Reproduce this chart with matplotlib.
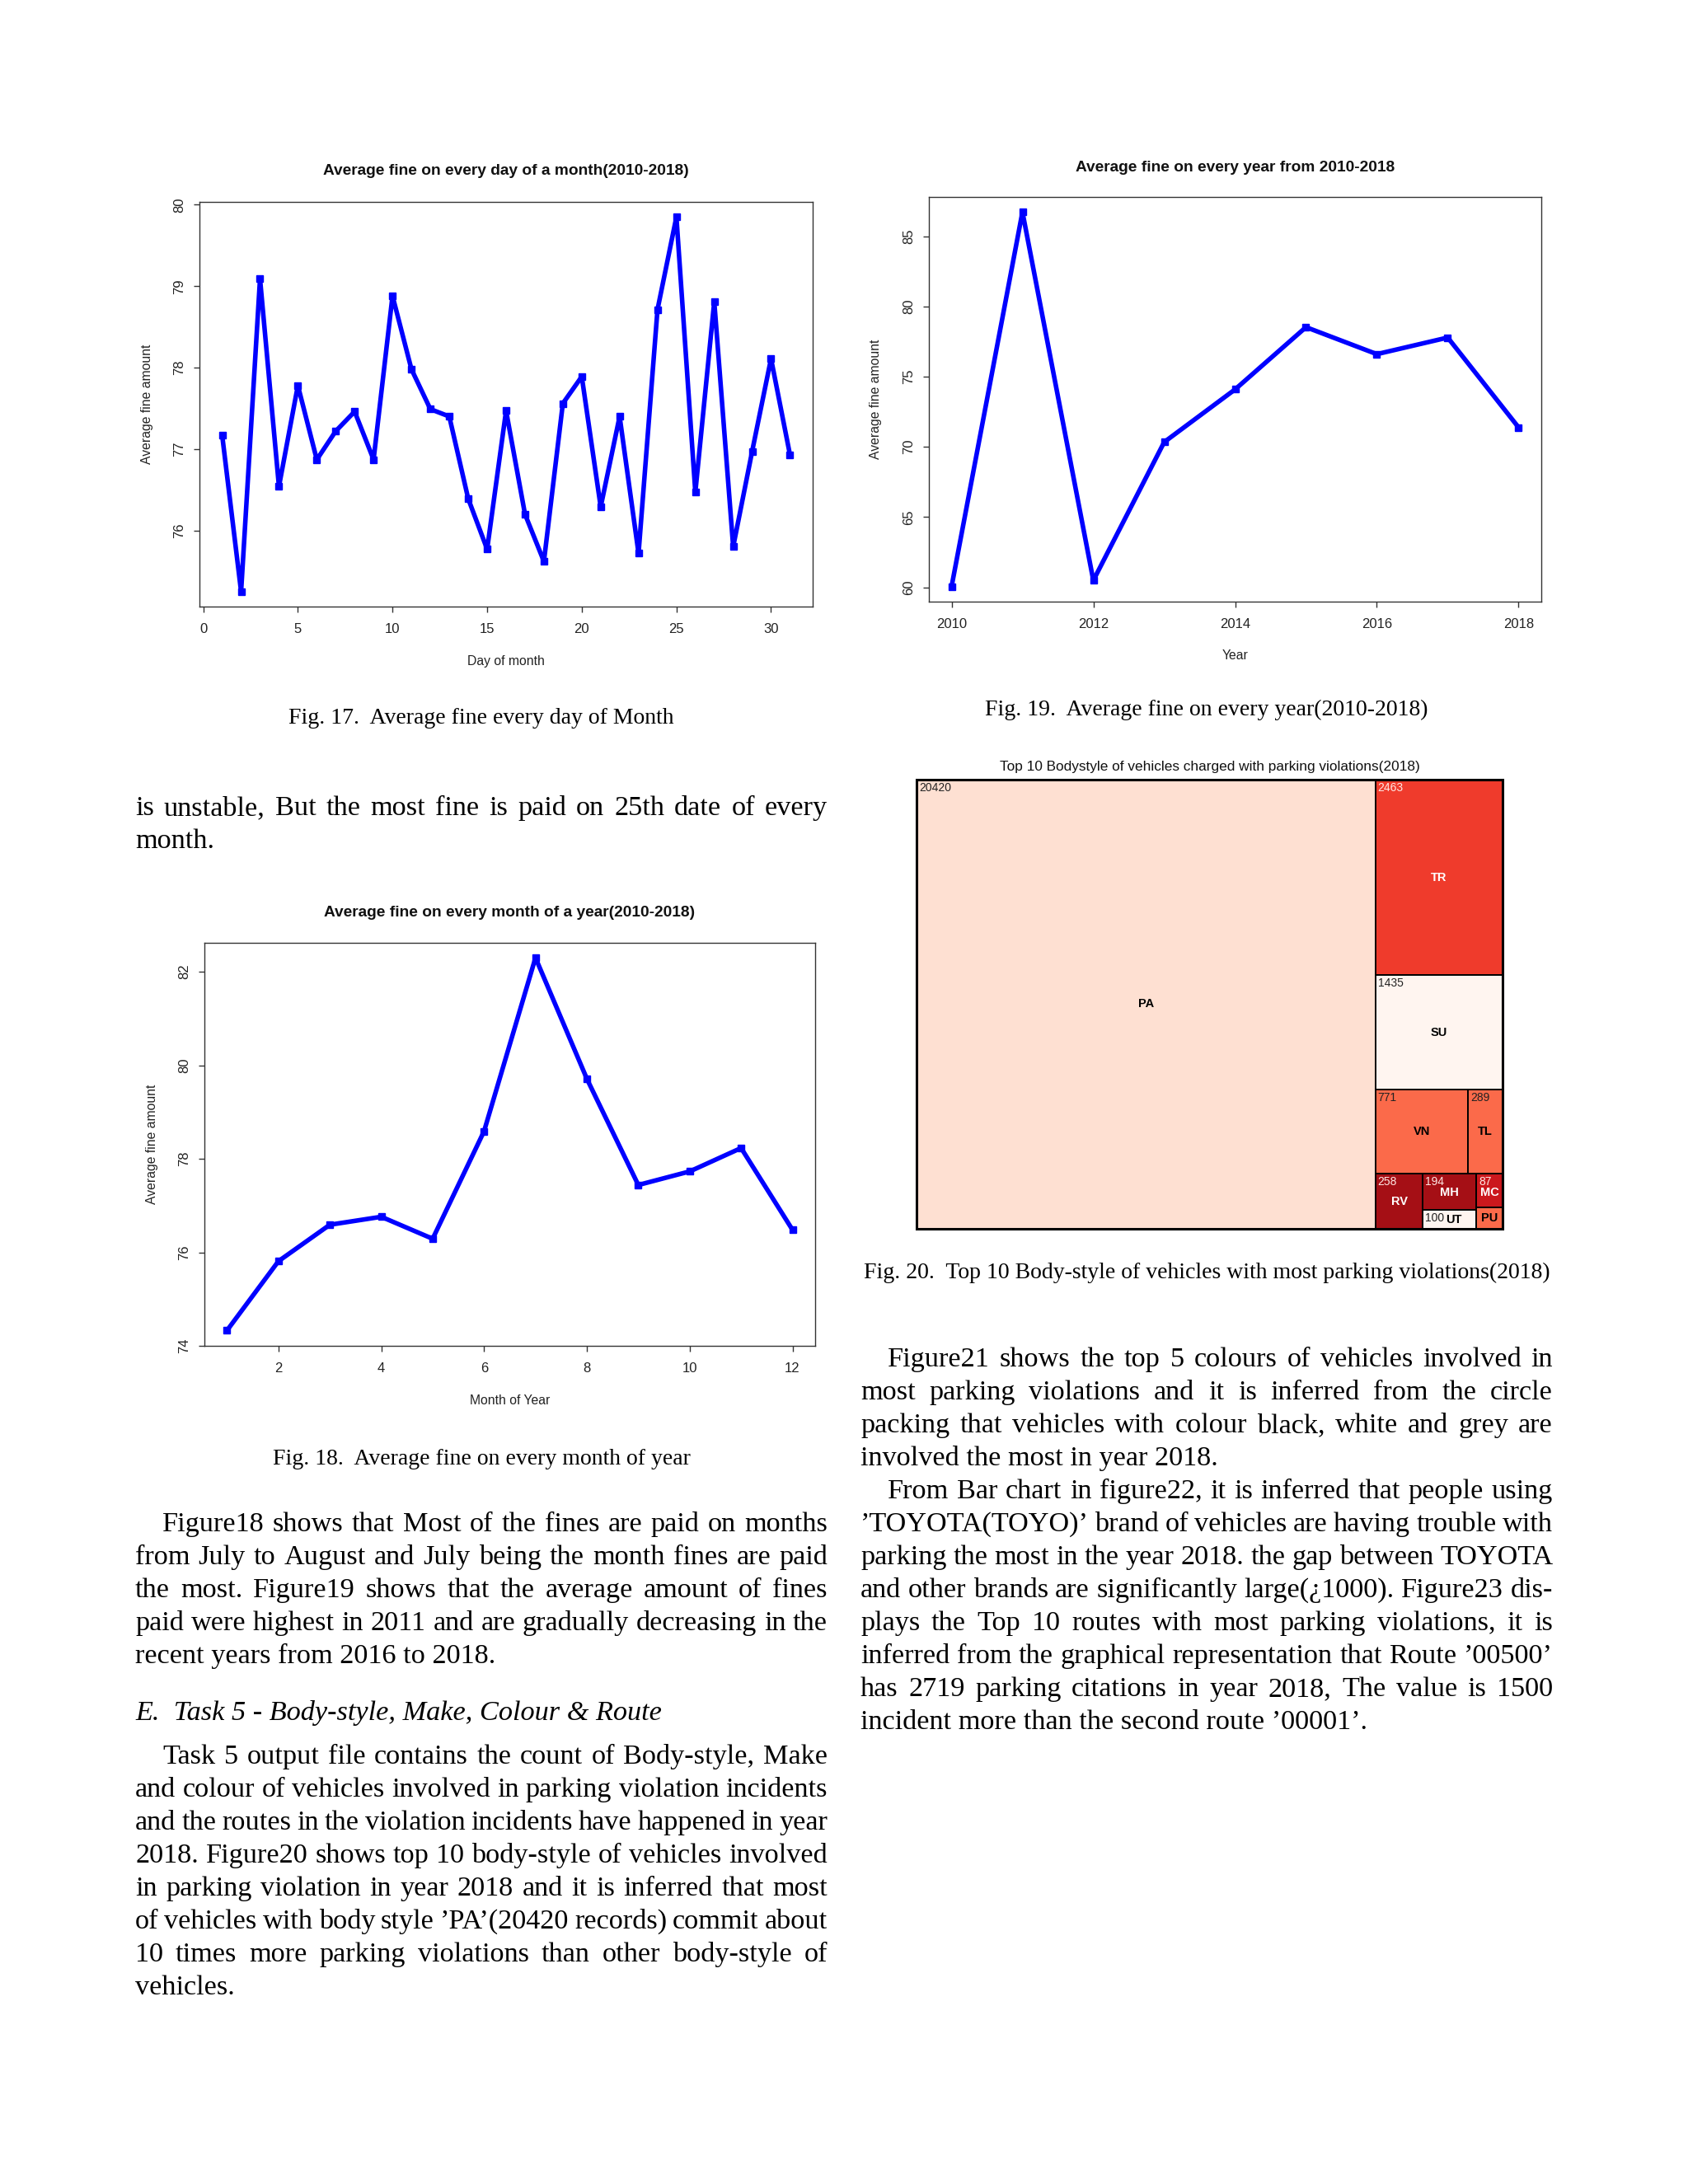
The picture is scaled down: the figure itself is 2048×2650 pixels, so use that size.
import matplotlib
matplotlib.use("Agg")
import matplotlib.pyplot as plt
from matplotlib.patches import Rectangle

# ---------------- data ----------------
days = list(range(1, 32))
day_fine = [77.17, 75.25, 79.09, 76.54, 77.78, 76.87, 77.22, 77.46, 76.87, 78.88,
            77.98, 77.49, 77.40, 76.39, 75.77, 77.47, 76.20, 75.62, 77.56, 77.89,
            76.29, 77.40, 75.72, 78.71, 79.85, 76.47, 78.81, 75.80, 76.97, 78.11,
            76.93]
day_xticks = [0, 5, 10, 15, 20, 25, 30]
day_yticks = [76, 77, 78, 79, 80]

years = [2010, 2011, 2012, 2013, 2014, 2015, 2016, 2017, 2018]
year_fine = [60.05, 86.72, 60.49, 70.34, 74.09, 78.52, 76.60, 77.78, 71.38]
year_xticks = [2010, 2012, 2014, 2016, 2018]
year_yticks = [60, 65, 70, 75, 80, 85]

months = list(range(1, 13))
month_fine = [74.33, 75.81, 76.59, 76.76, 76.29, 78.59, 82.30, 79.71, 77.44,
              77.73, 78.23, 76.48]
month_xticks = [2, 4, 6, 8, 10, 12]
month_yticks = [74, 76, 78, 80, 82]

body_styles = ["PA", "TR", "SU", "VN", "TL", "RV", "MH", "UT", "MC", "PU"]
body_counts = [20420, 2463, 1435, 771, 289, 258, 194, 100, 87, 55]

# ---------------- page text ----------------
cap17 = "Fig. 17.  Average fine every day of Month"
cap18 = "Fig. 18.  Average fine on every month of year"
cap19 = "Fig. 19.  Average fine on every year(2010-2018)"
cap20 = "Fig. 20.  Top 10 Body-style of vehicles with most parking violations(2018)"
heading_e = "E.  Task 5 - Body-style, Make, Colour & Route"

para_cont = ["is unstable, But the most fine is paid on 25th date of every",
             "month."]
para_fig18 = ["Figure18 shows that Most of the fines are paid on months",
              "from July to August and July being the month fines are paid",
              "the most. Figure19 shows that the average amount of fines",
              "paid were highest in 2011 and are gradually decreasing in the",
              "recent years from 2016 to 2018."]
para_task5 = ["Task 5 output file contains the count of Body-style, Make",
              "and colour of vehicles involved in parking violation incidents",
              "and the routes in the violation incidents have happened in year",
              "2018. Figure20 shows top 10 body-style of vehicles involved",
              "in parking violation in year 2018 and it is inferred that most",
              "of vehicles with body style \u2019PA\u2019(20420 records) commit about",
              "10 times more parking violations than other body-style of",
              "vehicles."]
para_fig21 = ["Figure21 shows the top 5 colours of vehicles involved in",
              "most parking violations and it is inferred from the circle",
              "packing that vehicles with colour black, white and grey are",
              "involved the most in year 2018."]
para_fig22 = ["From Bar chart in figure22, it is inferred that people using",
              "\u2019TOYOTA(TOYO)\u2019 brand of vehicles are having trouble with",
              "parking the most in the year 2018. the gap between TOYOTA",
              "and other brands are significantly large(\u00bf1000). Figure23 dis-",
              "plays the Top 10 routes with most parking violations, it is",
              "inferred from the graphical representation that Route \u201900500\u2019",
              "has 2719 parking citations in year 2018, The value is 1500",
              "incident more than the second route \u201900001\u2019."]

# ---------------- setup ----------------
W, H = 2048, 2650
SANS = ["Liberation Sans", "DejaVu Sans"]
SERIF = ["Liberation Serif", "DejaVu Serif"]
fig = plt.figure(figsize=(W / 100, H / 100), dpi=100)
fig.patch.set_facecolor("white")

overlay = fig.add_axes([0, 0, 1, 1])
overlay.set_xlim(0, W)
overlay.set_ylim(H, 0)
overlay.set_axis_off()
renderer = fig.canvas.get_renderer()


def add_ax(l, t, r, b):
    return fig.add_axes([l / W, 1 - b / H, (r - l) / W, (b - t) / H])


def r_chart(box, x, y, xticks, yticks, title, xlabel, ylabel,
            title_y, xlabel_y, ylabel_x):
    l, t, r, b = box
    ax = add_ax(l, t, r, b)
    ax.plot(x, y, color="#0000FF", lw=4.0, marker="s", ms=5.5,
            solid_joinstyle="round", solid_capstyle="round")
    xr = max(x) - min(x)
    yr = max(y) - min(y)
    ax.set_xlim(min(x) - 0.04 * xr, max(x) + 0.04 * xr)
    ax.set_ylim(min(y) - 0.04 * yr, max(y) + 0.04 * yr)
    ax.set_xticks(xticks)
    ax.set_yticks(yticks)
    ax.set_xticklabels([str(v) for v in xticks], family=SANS)
    ax.set_yticklabels([str(v) for v in yticks], family=SANS,
                       rotation=90, va="center")
    ax.tick_params(direction="out", length=5, width=1.0, colors="#333333",
                   labelsize=12, labelcolor="#222222")
    ax.tick_params(axis="x", pad=9.5)
    ax.tick_params(axis="y", pad=7.0)
    for s in ax.spines.values():
        s.set_color("#333333")
        s.set_linewidth(1.0)
    cx = (l + r) / 2
    cy = (t + b) / 2
    overlay.text(cx, title_y, title, ha="center", va="center", fontsize=13.8,
                 fontweight="bold", family=SANS, color="#111111")
    overlay.text(cx, xlabel_y, xlabel, ha="center", va="center", fontsize=11.3,
                 family=SANS, color="#222222")
    overlay.text(ylabel_x, cy, ylabel, ha="center", va="center", fontsize=11.3,
                 family=SANS, color="#222222", rotation=90)
    return ax


r_chart((242, 245, 986, 736), days, day_fine, day_xticks, day_yticks,
        "Average fine on every day of a month(2010-2018)", "Day of month",
        "Average fine amount", 208, 802, 179)
r_chart((1127, 239, 1870, 730), years, year_fine, year_xticks, year_yticks,
        "Average fine on every year from 2010-2018", "Year",
        "Average fine amount", 203, 796, 1063)
r_chart((248, 1144, 989, 1633), months, month_fine, month_xticks, month_yticks,
        "Average fine on every month of a year(2010-2018)", "Month of Year",
        "Average fine amount", 1107, 1699, 184)

# ---------------- treemap ----------------
tm_colors = {"PA": "#FEE0D2", "TR": "#EF3B2C", "SU": "#FFF5F0", "VN": "#FB6A4A",
             "TL": "#FB6A4A", "RV": "#A50F15", "MH": "#A50F15", "UT": "#FFF5F0",
             "MC": "#CB181D", "PU": "#FB6A4A"}
dark_cells = {"TR", "RV", "MH", "MC"}
tm_tree = ("h", ["PA", ("v", ["TR", "SU", ("h", ["VN", "TL"]),
                              ("h", ["RV", ("v", ["MH", "UT"]),
                                     ("v", ["MC", "PU"])])])])
count_of = dict(zip(body_styles, body_counts))


def node_total(node):
    if isinstance(node, str):
        return count_of[node]
    return sum(node_total(c) for c in node[1])


def layout(node, x, y, w, h, out):
    if isinstance(node, str):
        out[node] = (x, y, w, h)
        return
    direction, children = node
    tot = node_total(node)
    pos = 0.0
    for c in children:
        f = node_total(c) / tot
        if direction == "h":
            layout(c, x + pos * w, y, f * w, h, out)
        else:
            layout(c, x, y + pos * h, w, f * h, out)
        pos += f


tl, tt, tr_, tb = 1112, 946, 1823, 1491
TW, TH = tr_ - tl, tb - tt
tax = add_ax(tl, tt, tr_, tb)
tax.set_xlim(0, 1)
tax.set_ylim(1, 0)
tax.set_axis_off()
rects = {}
layout(tm_tree, 0, 0, 1, 1, rects)
for name in body_styles:
    x, y, w, h = rects[name]
    tax.add_patch(Rectangle((x, y), w, h, facecolor=tm_colors[name],
                            edgecolor="black", lw=1.4))
    txtc = "white" if name in dark_cells else "black"
    numc = "#FFE8E4" if name in dark_cells else "#222222"
    area_px = w * TW * h * TH
    num = None
    if area_px > 1000:
        num = tax.annotate(str(count_of[name]), xy=(x, y), xytext=(2.0, -2.0),
                           textcoords="offset points", ha="left", va="top",
                           fontsize=10, family=SANS, color=numc)
    lab = tax.text(x + w / 2, y + h / 2, name, ha="center", va="center",
                   fontsize=10.5, fontweight="bold", family=SANS, color=txtc)
    if num is not None:
        nb = num.get_window_extent(renderer)
        lb = lab.get_window_extent(renderer)
        if nb.overlaps(lb):
            down = nb.y0 - lb.y1 + 1  # negative => need to move down
            cell_bottom_px = (y + h) * TH  # from top of treemap
            lab_bottom_px = (y + h / 2) * TH + lb.height / 2 - down
            if lab_bottom_px < cell_bottom_px - 1:
                lab.set_y(y + h / 2 - down / TH)
            else:
                lab.set_x(x + w / 2 + (nb.x1 + 2 - lb.x0) / TW)
tax.add_patch(Rectangle((0, 0), 1, 1, facecolor="none", edgecolor="black",
                        lw=2.2, clip_on=False))
overlay.text((tl + tr_) / 2, 931, "Top 10 Bodystyle of vehicles charged with parking violations(2018)",
             ha="center", va="center", fontsize=12.4, family=SANS, color="#111111")

# ---------------- body text ----------------
BODY = 24.7
CAP = 20.0


def word_width(w, size, style="normal"):
    t = overlay.text(0, 0, w, fontsize=size, family=SERIF, style=style)
    wd = t.get_window_extent(renderer).width
    t.remove()
    return wd


def paragraph(lines, x0, x1, y0, indent=True, pitch=40, size=BODY):
    for i, line in enumerate(lines):
        y = y0 + i * pitch
        start = x0 + (33 if (indent and i == 0) else 0)
        last = (i == len(lines) - 1)
        words = line.split()
        if last or len(words) == 1:
            overlay.text(start, y, line, ha="left", va="baseline",
                         fontsize=size, family=SERIF, color="black")
            continue
        widths = [word_width(w, size) for w in words]
        gap = (x1 - start - sum(widths)) / (len(words) - 1)
        x = start
        for w, wd in zip(words, widths):
            overlay.text(x, y, w, ha="left", va="baseline", fontsize=size,
                         family=SERIF, color="black")
            x += wd + gap


LX0, LX1 = 164, 1004
RX0, RX1 = 1044, 1884

overlay.text((LX0 + LX1) / 2, 878, cap17, ha="center", va="baseline",
             fontsize=CAP, family=SERIF)
overlay.text((LX0 + LX1) / 2, 1777, cap18, ha="center", va="baseline",
             fontsize=CAP, family=SERIF)
overlay.text((RX0 + RX1) / 2, 868, cap19, ha="center", va="baseline",
             fontsize=CAP, family=SERIF)
overlay.text((RX0 + RX1) / 2, 1551, cap20, ha="center", va="baseline",
             fontsize=CAP, family=SERIF)

paragraph(para_cont, LX0, LX1, 989, indent=False)
paragraph(para_fig18, LX0, LX1, 1858)
overlay.text(LX0, 2087, heading_e, ha="left", va="baseline", fontsize=BODY,
             family=SERIF, style="italic")
paragraph(para_task5, LX0, LX1, 2140)
paragraph(para_fig21, RX0, RX1, 1658)
paragraph(para_fig22, RX0, RX1, 1818)

fig.savefig("out.png", dpi=100, facecolor="white")
